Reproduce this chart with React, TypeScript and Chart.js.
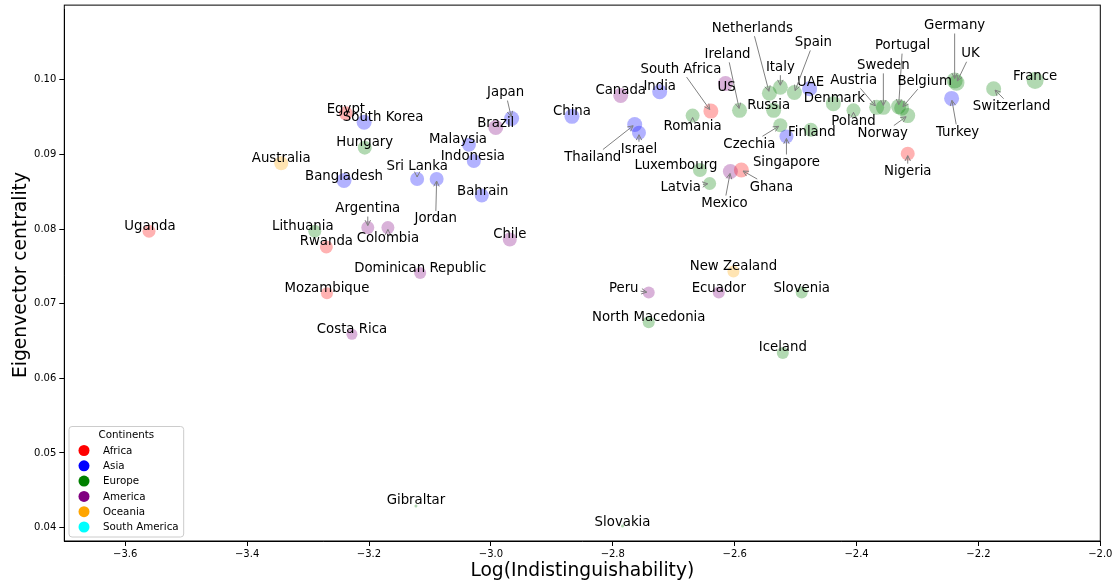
import React, { useEffect, useRef } from "react";
import { Chart, registerables } from "chart.js";

Chart.register(...registerables);

// ---------------- data ----------------
const countries = [
  "Uganda", "Egypt", "Rwanda", "Mozambique", "South Africa", "Ghana", "Nigeria",
  "South Korea", "Bangladesh", "Sri Lanka", "Jordan", "Malaysia", "Indonesia", "Bahrain",
  "Japan", "China", "India", "Thailand", "Israel", "Singapore", "UAE", "Turkey",
  "Hungary", "Lithuania", "Romania", "Ireland", "Russia", "Netherlands", "Italy", "Spain",
  "Denmark", "Poland", "Austria", "Sweden", "Portugal", "Belgium", "Norway", "Germany",
  "UK", "Switzerland", "France", "Czechia", "Finland", "Luxembourg", "Latvia", "Slovenia",
  "North Macedonia", "Iceland", "Gibraltar", "Slovakia",
  "Brazil", "Argentina", "Colombia", "Chile", "Dominican Republic", "Costa Rica", "Peru",
  "Ecuador", "Canada", "US", "Mexico",
  "Australia", "New Zealand",
];

const countryContinent = [
  "Africa", "Africa", "Africa", "Africa", "Africa", "Africa", "Africa",
  "Asia", "Asia", "Asia", "Asia", "Asia", "Asia", "Asia",
  "Asia", "Asia", "Asia", "Asia", "Asia", "Asia", "Asia", "Asia",
  "Europe", "Europe", "Europe", "Europe", "Europe", "Europe", "Europe", "Europe",
  "Europe", "Europe", "Europe", "Europe", "Europe", "Europe", "Europe", "Europe",
  "Europe", "Europe", "Europe", "Europe", "Europe", "Europe", "Europe", "Europe",
  "Europe", "Europe", "Europe", "Europe",
  "America", "America", "America", "America", "America", "America", "America",
  "America", "America", "America", "America",
  "Oceania", "Oceania",
];

// Log(Indistinguishability)
const logIndist = [
  -3.561, -3.238, -3.270, -3.269, -2.639, -2.589, -2.316,
  -3.208, -3.241, -3.121, -3.089, -3.036, -3.028, -3.015,
  -2.966, -2.867, -2.723, -2.764, -2.757, -2.515, -2.477, -2.244,
  -3.207, -3.289, -2.669, -2.592, -2.536, -2.543, -2.525, -2.502,
  -2.438, -2.405, -2.367, -2.356, -2.331, -2.326, -2.316, -2.239,
  -2.236, -2.175, -2.107, -2.525, -2.475, -2.657, -2.641, -2.490,
  -2.741, -2.521, -3.123, -2.784,
  -2.992, -3.202, -3.169, -2.969, -3.116, -3.228, -2.741,
  -2.626, -2.787, -2.615, -2.607,
  -3.344, -2.602,
];

// Eigenvector centrality
const eigenCentrality = [
  0.0797, 0.0955, 0.0776, 0.0714, 0.0958, 0.0879, 0.0901,
  0.0943, 0.0865, 0.0867, 0.0867, 0.0913, 0.0891, 0.0845,
  0.0948, 0.0951, 0.0984, 0.0940, 0.0929, 0.0924, 0.0988, 0.0975,
  0.0909, 0.0797, 0.0952, 0.0959, 0.0959, 0.0982, 0.0990, 0.0983,
  0.0968, 0.0959, 0.0963, 0.0963, 0.0964, 0.0962, 0.0952, 0.0999,
  0.0996, 0.0988, 0.0999, 0.0939, 0.0933, 0.0879, 0.0861, 0.0715,
  0.0675, 0.0634, 0.0429, 0.0402,
  0.0936, 0.0802, 0.0802, 0.0786, 0.0741, 0.0659, 0.0715,
  0.0715, 0.0979, 0.0995, 0.0877,
  0.0888, 0.0743,
];

// node weight (marker size encoding)
const nodeWeight = [
  6.5, 7, 6.5, 6, 7.5, 7.5, 7,
  7.5, 7.5, 7, 7, 7, 7, 7,
  7.5, 7.5, 7.5, 7.5, 7, 7, 7.5, 7.5,
  7, 6.5, 7, 7.5, 7.5, 7.5, 7.5, 7.5,
  7.5, 7, 7.5, 7.5, 7.5, 7.5, 7.5, 8,
  8, 7.5, 8.5, 7, 7, 7, 6.5, 6,
  6, 6, 1.5, 1.5,
  7.5, 6.5, 6.5, 7, 6, 5.5, 6,
  6, 7.5, 7.5, 7.5,
  7, 6,
];

const continents = ["Africa", "Asia", "Europe", "America", "Oceania", "South America"];
const continentColors = ["#ff0000", "#0000ff", "#008000", "#800080", "#ffa500", "#00ffff"];

const xTicks = [-3.6, -3.4, -3.2, -3.0, -2.8, -2.6, -2.4, -2.2, -2.0];
const yTicks = [0.04, 0.05, 0.06, 0.07, 0.08, 0.09, 0.1];
const yAxisTop = 0.11;

// ---------------- annotation layout (pixel offsets of text from point) ----------------
const labelLayout: Record<string, [number, number, boolean]> = {
  Uganda: [1, -5, false],
  Australia: [0, -5, false],
  Egypt: [0, -4, false],
  "South Korea": [19, -5, false],
  Hungary: [0, -5, false],
  Bangladesh: [0, -4, false],
  "Sri Lanka": [0, -12, true],
  Jordan: [-1, 40, true],
  Malaysia: [-11, -5, false],
  Indonesia: [-1, -5, false],
  Bahrain: [1, -4, false],
  Japan: [-6, -26, true],
  Brazil: [0, -4, false],
  Argentina: [0, -19, true],
  Lithuania: [-12, -5, false],
  Rwanda: [0, -5, false],
  Colombia: [0, 11, true],
  Chile: [0, -5, false],
  "Dominican Republic": [0, -5, false],
  Mozambique: [0, -5, false],
  "Costa Rica": [0, -5, false],
  Gibraltar: [0, -5, false],
  Slovakia: [0, -4, false],
  Peru: [-25, -4, true],
  Ecuador: [0, -4, false],
  "New Zealand": [0, -5, false],
  Slovenia: [0, -4, false],
  "North Macedonia": [0, -5, false],
  Iceland: [0, -5, false],
  China: [0, -5, false],
  Canada: [0, -5, false],
  India: [0, -5, false],
  "South Africa": [-30, -42, true],
  US: [1, 4, false],
  Ireland: [-12, -56, true],
  Russia: [-5, -5, false],
  Romania: [0, 11, true],
  Thailand: [-42, 33, true],
  Israel: [0, 17, true],
  Luxembourg: [-24, -5, false],
  Latvia: [-29, 4, true],
  Mexico: [-6, 32, true],
  Ghana: [30, 17, true],
  Czechia: [-31, 19, true],
  Singapore: [0, 26, true],
  Finland: [1, 3, false],
  Netherlands: [-17, -65, true],
  Italy: [0, -20, true],
  Spain: [19, -50, true],
  UAE: [1, -6, false],
  Denmark: [1, -5, false],
  Poland: [0, 11, true],
  Austria: [-23, -27, true],
  Sweden: [0, -42, true],
  Portugal: [4, -61, true],
  Belgium: [23, -27, true],
  Norway: [-25, 18, true],
  Germany: [0, -55, true],
  UK: [14, -29, true],
  France: [0, -4, false],
  Switzerland: [18, 18, true],
  Turkey: [6, 34, true],
  Nigeria: [0, 18, true],
};

const FONT = '"DejaVu Sans", "Liberation Sans", sans-serif';

function hexToRgba(hex: string, a: number) {
  const r = parseInt(hex.slice(1, 3), 16);
  const g = parseInt(hex.slice(3, 5), 16);
  const b = parseInt(hex.slice(5, 7), 16);
  return `rgba(${r},${g},${b},${a})`;
}

const overlayPlugin = {
  id: "overlay",
  afterDatasetsDraw(chart: any) {
    const { ctx, chartArea: ca, scales } = chart;
    const xs = scales.x;
    const ys = scales.y;
    ctx.save();

    // frame (axes box up to the axis top value)
    const topPx = ys.getPixelForValue(yAxisTop);
    ctx.strokeStyle = "#000";
    ctx.lineWidth = 1;
    ctx.strokeRect(ca.left, topPx, ca.right - ca.left, ca.bottom - topPx);

    // annotations
    ctx.font = `13.3px ${FONT}`;
    ctx.textAlign = "center";
    ctx.textBaseline = "middle";
    countries.forEach((name, i) => {
      const px = xs.getPixelForValue(logIndist[i]);
      const py = ys.getPixelForValue(eigenCentrality[i]);
      const lay = labelLayout[name] || [0, -5, false];
      const lx = px + lay[0];
      const ly = py + lay[1];
      if (lay[2]) {
        const hw = ctx.measureText(name).width / 2 + 2;
        const hh = 8;
        const vx = px - lx;
        const vy = py - ly;
        const tx = vx !== 0 ? hw / Math.abs(vx) : Infinity;
        const ty = vy !== 0 ? hh / Math.abs(vy) : Infinity;
        const t = Math.min(tx, ty);
        if (t < 1) {
          const sx = lx + vx * t;
          const sy = ly + vy * t;
          const len = Math.hypot(vx, vy);
          const ux = vx / len;
          const uy = vy / len;
          const ex = px - ux * 2;
          const ey = py - uy * 2;
          ctx.strokeStyle = "#808080";
          ctx.lineWidth = 1;
          ctx.beginPath();
          ctx.moveTo(sx, sy);
          ctx.lineTo(ex, ey);
          ctx.stroke();
          const ang = Math.atan2(uy, ux);
          const hl = 6;
          const spread = 0.47;
          ctx.beginPath();
          ctx.moveTo(ex - hl * Math.cos(ang - spread), ey - hl * Math.sin(ang - spread));
          ctx.lineTo(ex, ey);
          ctx.lineTo(ex - hl * Math.cos(ang + spread), ey - hl * Math.sin(ang + spread));
          ctx.stroke();
        }
      }
      ctx.fillStyle = "#000";
      ctx.fillText(name, lx, ly);
    });

    // legend
    ctx.font = `10.3px ${FONT}`;
    let maxW = 0;
    chart.data.datasets.forEach((d: any) => {
      maxW = Math.max(maxW, ctx.measureText(d.label).width);
    });
    const boxW = 34 + maxW + 5;
    const rowH = 15.3;
    const n = chart.data.datasets.length;
    const boxH = 24 + (n - 1) * rowH + 10;
    const bx = ca.left + 4.7;
    const by = ca.bottom - 4 - boxH;
    ctx.beginPath();
    if (ctx.roundRect) ctx.roundRect(bx, by, boxW, boxH, 3);
    else ctx.rect(bx, by, boxW, boxH);
    ctx.fillStyle = "rgba(255,255,255,0.8)";
    ctx.fill();
    ctx.strokeStyle = "#cccccc";
    ctx.lineWidth = 1;
    ctx.stroke();
    ctx.fillStyle = "#000";
    ctx.textAlign = "center";
    ctx.textBaseline = "middle";
    ctx.fillText("Continents", bx + boxW / 2, by + 9);
    ctx.textAlign = "left";
    chart.data.datasets.forEach((d: any, k: number) => {
      const cy = by + 24 + k * rowH;
      ctx.beginPath();
      ctx.arc(bx + 15, cy, 5.5, 0, Math.PI * 2);
      ctx.fillStyle = d.legendColor;
      ctx.fill();
      ctx.fillStyle = "#000";
      ctx.fillText(d.label, bx + 34, cy + 0.5);
    });

    ctx.restore();
  },
};

export default function App() {
  const canvasRef = useRef<HTMLCanvasElement | null>(null);

  useEffect(() => {
    const canvas = canvasRef.current;
    if (!canvas) return;

    const datasets = continents.map((c, ci) => {
      const idx = countries.map((_, i) => i).filter((i) => countryContinent[i] === c);
      return {
        label: c,
        legendColor: continentColors[ci],
        data: idx.map((i) => ({ x: logIndist[i], y: eigenCentrality[i] })),
        pointRadius: idx.map((i) => nodeWeight[i]),
        pointHoverRadius: idx.map((i) => nodeWeight[i]),
        backgroundColor: hexToRgba(continentColors[ci], 0.3),
        pointBorderWidth: 0,
        borderWidth: 0,
        showLine: false,
      };
    });

    const chart = new Chart(canvas, {
      type: "scatter",
      data: { datasets: datasets as any },
      options: {
        animation: false,
        responsive: false,
        devicePixelRatio: 1,
        events: [],
        layout: { padding: { top: 4.7, right: 14.7, left: 0, bottom: 0 } },
        plugins: {
          legend: { display: false },
          tooltip: { enabled: false },
        },
        scales: {
          x: {
            type: "linear",
            min: -3.7,
            max: -2.0,
            afterBuildTicks: (scale: any) => {
              scale.ticks = xTicks.map((v) => ({ value: v }));
            },
            afterFit: (scale: any) => {
              scale.height = 43;
              scale.paddingLeft = 0;
              scale.paddingRight = 0;
            },
            ticks: {
              color: "#000",
              font: { family: FONT, size: 10 },
              padding: 2,
              maxRotation: 0,
              autoSkip: false,
              callback: (v: any) => {
                const n = Number(v);
                return (n < 0 ? "\u2212" : "") + Math.abs(n).toFixed(1);
              },
            },
            grid: {
              display: true,
              drawOnChartArea: false,
              drawTicks: true,
              tickLength: 5,
              color: "#000",
              lineWidth: 1,
            },
            border: { display: true, color: "#000", width: 1 },
            title: {
              display: true,
              text: "Log(Indistinguishability)",
              color: "#000",
              font: { family: FONT, size: 18.67 },
              padding: { top: 0, bottom: 1.8 },
            },
          },
          y: {
            type: "linear",
            min: 0.0382,
            max: 0.10948,
            afterBuildTicks: (scale: any) => {
              scale.ticks = yTicks.map((v) => ({ value: v }));
            },
            afterFit: (scale: any) => {
              scale.width = 64.3;
            },
            ticks: {
              color: "#000",
              font: { family: FONT, size: 10 },
              padding: 3,
              autoSkip: false,
              callback: (v: any) => Number(v).toFixed(2),
            },
            grid: {
              display: true,
              drawOnChartArea: false,
              drawTicks: true,
              tickLength: 5,
              color: "#000",
              lineWidth: 1,
            },
            border: { display: true, color: "#000", width: 1 },
            title: {
              display: true,
              text: "Eigenvector centrality",
              color: "#000",
              font: { family: FONT, size: 18.67 },
              padding: { top: 10, bottom: 0 },
            },
          },
        },
      },
      plugins: [overlayPlugin],
    } as any);

    return () => chart.destroy();
  }, []);

  return (
    <div style={{ position: "fixed", left: 0, top: 0, width: 1115, height: 584, background: "#fff" }}>
      <canvas ref={canvasRef} width={1115} height={584} style={{ display: "block" }} />
    </div>
  );
}
